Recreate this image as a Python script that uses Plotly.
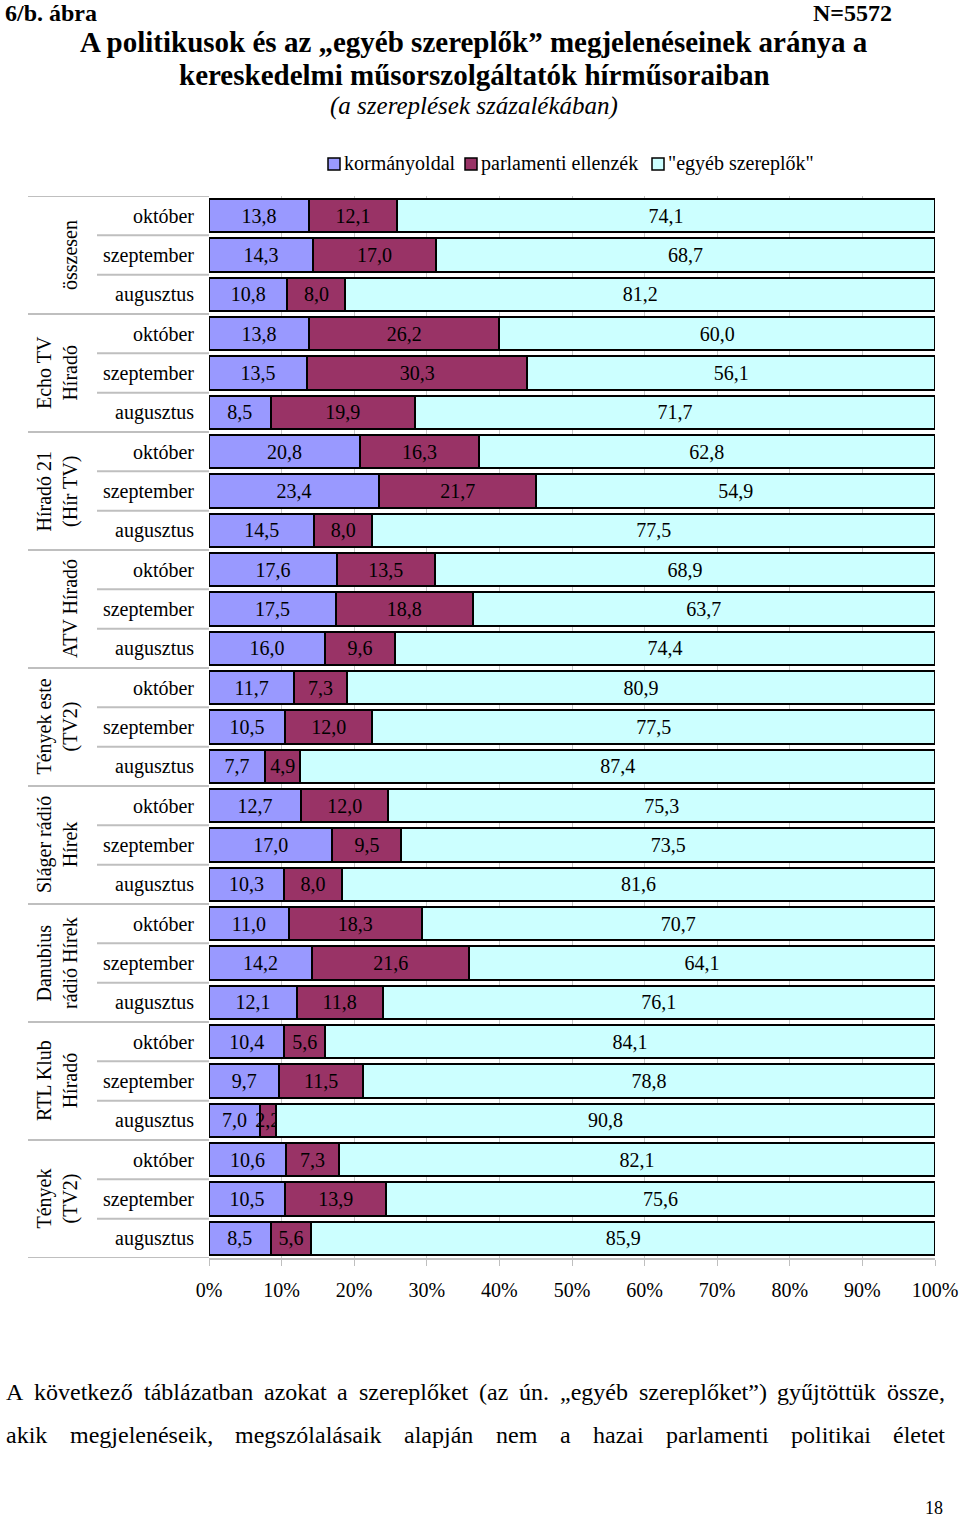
import plotly.graph_objects as go

# ---------------- data (top row first) ----------------
groups = ["összesen", "Echo TV<br>Híradó", "Híradó 21<br>(Hír TV)", "ATV Híradó",
          "Tények este<br>(TV2)", "Sláger rádió<br>Hírek", "Danubius<br>rádió Hírek",
          "RTL Klub<br>Híradó", "Tények<br>(TV2)"]
months = ["október", "szeptember", "augusztus"]

kormanyoldal = [13.8, 14.3, 10.8,
                13.8, 13.5, 8.5,
                20.8, 23.4, 14.5,
                17.6, 17.5, 16.0,
                11.7, 10.5, 7.7,
                12.7, 17.0, 10.3,
                11.0, 14.2, 12.1,
                10.4, 9.7, 7.0,
                10.6, 10.5, 8.5]
ellenzek = [12.1, 17.0, 8.0,
            26.2, 30.3, 19.9,
            16.3, 21.7, 8.0,
            13.5, 18.8, 9.6,
            7.3, 12.0, 4.9,
            12.0, 9.5, 8.0,
            18.3, 21.6, 11.8,
            5.6, 11.5, 2.2,
            7.3, 13.9, 5.6]
egyeb = [74.1, 68.7, 81.2,
         60.0, 56.1, 71.7,
         62.8, 54.9, 77.5,
         68.9, 63.7, 74.4,
         80.9, 77.5, 87.4,
         75.3, 73.5, 81.6,
         70.7, 64.1, 76.1,
         84.1, 78.8, 90.8,
         82.1, 75.6, 85.9]

series_names = ["kormányoldal", "parlamenti ellenzék", "\"egyéb szereplők\""]
x_ticks = [0, 10, 20, 30, 40, 50, 60, 70, 80, 90, 100]

body_line1 = "A következő táblázatban azokat a szereplőket (az ún. „egyéb szereplőket”) gyűjtöttük össze,"
body_line2 = "akik megjelenéseik, megszólalásaik alapján nem a hazai parlamenti politikai életet"

# ---------------- styling ----------------
FONT = "Liberation Serif"
colors = ["#9999FF", "#993366", "#CCFFFF"]
W, H = 960, 1518
L, R, T, B = 209, 935, 196, 1258   # plot area in pixels


def px(x):
    return (x - L) / (R - L)


def py(y):
    return (B - y) / (B - T)


def fmt(v):
    return f"{v:.1f}".replace(".", ",")


# Times / Liberation Serif advance widths (per 1000 em) for justification
TW = {c: 500 for c in "bdghknopquvxy0123456789öőóúüű"}
TW.update({c: 444 for c in "aceázé„”"})
TW.update({c: 278 for c in "ijltí"})
TW.update({"m": 778, "r": 333, "s": 389, "f": 333, "w": 722, ",": 250, ".": 250,
           "(": 333, ")": 333, "A": 722, " ": 250})


def word_w(w, size):
    return sum(TW.get(c, 500) for c in w) * size / 1000.0


def justify(line, x0, x1, size):
    words = line.split(" ")
    widths = [word_w(w, size) for w in words]
    gap = (x1 - x0 - sum(widths)) / (len(words) - 1)
    xs, x = [], x0
    for wd in widths:
        xs.append(x)
        x += wd + gap
    return list(zip(words, xs))


rows = [g * len(months) + m for g in range(len(groups)) for m in range(len(months))]
row_labels = [months[m] for g in range(len(groups)) for m in range(len(months))]

fig = go.Figure()
for name, vals, col in zip(series_names, [kormanyoldal, ellenzek, egyeb], colors):
    fig.add_trace(go.Bar(
        y=rows, x=vals, orientation="h", name=name,
        marker=dict(color=col, line=dict(color="black", width=2)),
        text=[fmt(v) for v in vals], texttemplate="%{text}",
        textposition="inside", insidetextanchor="middle", textangle=0,
        textfont=dict(family=FONT, size=20, color="black"),
        constraintext="none", cliponaxis=False, showlegend=False,
    ))

shapes = []
n = len(rows)
# separators in the label area
for i in range(n + 1):
    yv = i - 0.5
    x0 = px(28) if i % 3 == 0 else px(97)
    shapes.append(dict(type="line", xref="paper", yref="y", x0=x0, x1=0,
                       y0=yv, y1=yv, line=dict(color="#BFBFBF", width=2)))

annotations = []
for g, gname in enumerate(groups):
    annotations.append(dict(
        text=gname, xref="paper", yref="y", x=px(83), y=g * 3 + 1,
        xanchor="right", yanchor="middle", textangle=-90, showarrow=False,
        font=dict(family=FONT, size=20, color="black"), align="center"))

# custom legend (small squares + labels)
legend_sq_x = [328, 465, 652]
for name, col, sx in zip(series_names, colors, legend_sq_x):
    shapes.append(dict(type="rect", xref="paper", yref="paper",
                       x0=px(sx), x1=px(sx + 12), y0=py(170), y1=py(158),
                       fillcolor=col, line=dict(color="black", width=1.5)))
    annotations.append(dict(text=name, xref="paper", yref="paper", x=px(sx + 14), y=py(164),
                            xanchor="left", yanchor="middle", showarrow=False,
                            font=dict(family=FONT, size=20, color="black")))

# header texts
annotations += [
    dict(text="<b>6/b. ábra</b>", xref="paper", yref="paper", x=px(3), y=py(13),
         xanchor="left", yanchor="middle", showarrow=False,
         font=dict(family=FONT, size=24, color="black")),
    dict(text="<b>N=5572</b>", xref="paper", yref="paper", x=px(894), y=py(13),
         xanchor="right", yanchor="middle", showarrow=False,
         font=dict(family=FONT, size=24, color="black")),
    dict(text="<b>A politikusok és az „egyéb szereplők” megjelenéseinek aránya a</b>",
         xref="paper", yref="paper", x=px(474), y=py(42),
         xanchor="center", yanchor="middle", showarrow=False,
         font=dict(family=FONT, size=29, color="black")),
    dict(text="<b>kereskedelmi műsorszolgáltatók hírműsoraiban</b>",
         xref="paper", yref="paper", x=px(474), y=py(75),
         xanchor="center", yanchor="middle", showarrow=False,
         font=dict(family=FONT, size=29, color="black")),
    dict(text="<i>(a szereplések százalékában)</i>",
         xref="paper", yref="paper", x=px(474), y=py(106),
         xanchor="center", yanchor="middle", showarrow=False,
         font=dict(family=FONT, size=25, color="black")),
    dict(text="18", xref="paper", yref="paper", x=px(945), y=py(1508),
         xanchor="right", yanchor="middle", showarrow=False,
         font=dict(family=FONT, size=18, color="black")),
]
# justified body text
for line, yy in [(body_line1, 1392), (body_line2, 1435)]:
    for w, xx in justify(line, 4, 943, 24):
        annotations.append(dict(text=w, xref="paper", yref="paper", x=px(xx), y=py(yy),
                                xanchor="left", yanchor="middle", showarrow=False,
                                font=dict(family=FONT, size=24, color="black")))

fig.update_layout(
    width=W, height=H, autosize=False,
    margin=dict(l=L, r=W - R, t=T, b=H - B, pad=0, autoexpand=False),
    barmode="stack", barnorm="percent", bargap=0.16,
    plot_bgcolor="white", paper_bgcolor="white",
    font=dict(family=FONT, size=20, color="black"),
    showlegend=False,
    uniformtext=dict(minsize=20, mode="show"),
    shapes=shapes, annotations=annotations,
)
fig.update_xaxes(range=[0, 100.0001], tickvals=x_ticks, ticktext=[f"{t}%" for t in x_ticks],
                 showgrid=True, gridcolor="#C8C8C8", gridwidth=1,
                 showline=True, linecolor="#BFBFBF", linewidth=2,
                 ticks="outside", ticklen=6, tickcolor="#BFBFBF", tickwidth=1,
                 ticklabelstandoff=7, zeroline=False, automargin=False,
                 tickfont=dict(family=FONT, size=20, color="black"), fixedrange=True)
fig.update_yaxes(range=[n - 0.5, -0.5], tickvals=rows, ticktext=row_labels,
                 showgrid=False, zeroline=False, showline=False, ticks="",
                 ticklabelstandoff=14, automargin=False,
                 tickfont=dict(family=FONT, size=20, color="black"), fixedrange=True)

fig.write_html("out.html",
               config={"displayModeBar": False, "responsive": False},
               post_script="document.body.style.margin='0px';document.body.style.overflow='hidden';")
